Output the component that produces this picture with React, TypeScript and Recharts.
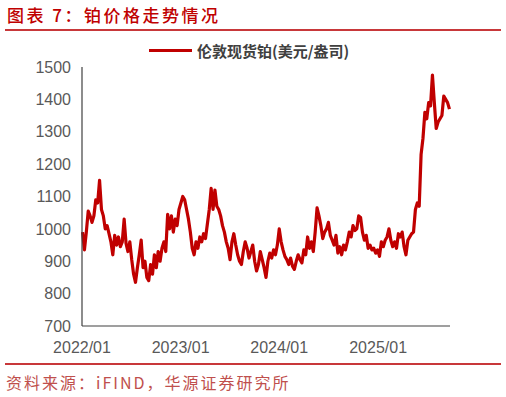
import React from 'react';
import { LineChart, Line, XAxis, YAxis } from 'recharts';

// Weekly London spot platinum (USD/oz)
const prices2022 = [
  990, 935, 990, 1055, 1040, 1020, 1040, 1090, 1080, 1150, 1060, 1040, 1000,
  1010, 985, 960, 920, 980, 950, 975, 945, 960, 1030, 955, 930, 960,
  905, 860, 835, 880, 920, 965, 880, 900, 850, 840, 890, 860, 920,
  880, 930, 900, 940, 960, 930, 1045, 1000, 1040, 990, 1030, 1010, 1060,
];
const prices2023 = [
  1080, 1100, 1090, 1060, 1030, 990, 940, 920, 960, 940, 975, 960, 985,
  970, 1015, 1060, 1125, 1060, 1120, 1070, 1060, 1040, 1010, 990, 960, 940,
  905, 960, 985, 950, 920, 900, 890, 930, 960, 940, 910, 930, 950,
  900, 870, 890, 930, 905, 880, 850, 900, 925, 910, 935, 920, 950,
];
const prices2024 = [
  1000, 960, 935, 915, 905, 890, 910, 885, 875, 900, 920, 905, 895,
  935, 920, 975, 940, 960, 930, 990, 1065, 1040, 1010, 970, 990, 1000,
  1020, 980, 965, 950, 980, 925, 945, 920, 950, 935, 960, 990, 975,
  1010, 995, 1000, 1040, 1035, 990, 965, 980, 940, 950, 935, 940, 925,
];
const prices2025 = [
  935, 915, 960, 945, 965, 975, 1000, 965, 945, 960, 940, 985, 975,
  990, 945, 920, 965, 975, 985, 990, 1060, 1080, 1070, 1230, 1280, 1360,
  1340, 1390, 1380, 1475, 1390, 1310, 1330, 1340, 1350, 1410, 1400, 1390, 1370,
];

const tickDays = [0, 365, 730, 1096];
const tickLabels = ['2022/01', '2023/01', '2024/01', '2025/01'];
const yTicks = [700, 800, 900, 1000, 1100, 1200, 1300, 1400, 1500];
const seriesName = '伦敦现货铂(美元/盎司)';
const titleText = '图表 7：铂价格走势情况';
const sourceText = '资料来源：iFIND，华源证券研究所';

const weekly = [...prices2022, ...prices2023, ...prices2024, ...prices2025];
const data = weekly.map((price, i) => ({ day: 2 + i * 7, price }));

const labelFor = (v: number) => {
  const k = tickDays.indexOf(v);
  return k >= 0 ? tickLabels[k] : '';
};

const Empty = () => <g />;

export default function App() {
  return (
    <div
      style={{
        position: 'absolute',
        left: 0,
        top: 0,
        width: 506,
        height: 397,
        background: '#fff',
        overflow: 'hidden',
      }}
    >
      <div
        style={{
          position: 'absolute',
          left: 7,
          top: 4,
          fontFamily: '"Noto Sans CJK SC", sans-serif',
          fontSize: 17,
          letterSpacing: 2.5,
          lineHeight: '22px',
          color: '#C00000',
          fontWeight: 500,
          whiteSpace: 'nowrap',
        }}
      >
        {titleText}
      </div>
      <div style={{ position: 'absolute', left: 5, top: 29, width: 496, height: 2, background: '#C8383A' }} />

      <LineChart
        width={506}
        height={397}
        data={data}
        margin={{ top: 67, right: 56, bottom: 41, left: 22 }}
        style={{ position: 'absolute', left: 0, top: 0 }}
      >
        <XAxis
          xAxisId="main"
          dataKey="day"
          type="number"
          domain={[0, 1362]}
          ticks={tickDays}
          interval={0}
          tickFormatter={labelFor}
          tickSize={0}
          tickMargin={16}
          height={30}
          axisLine={{ stroke: '#404040', strokeWidth: 1.2 }}
          tick={{ fill: '#595959', fontSize: 16, fontFamily: '"Liberation Sans", Arial, sans-serif' }}
        />
        <XAxis
          xAxisId="tk"
          dataKey="day"
          type="number"
          domain={[0, 1362]}
          ticks={tickDays}
          interval={0}
          mirror
          height={0}
          axisLine={false}
          tickSize={5}
          tickLine={{ stroke: '#404040', strokeWidth: 1.2 }}
          tick={<Empty />}
        />
        <YAxis
          yAxisId="main"
          type="number"
          domain={[700, 1500]}
          ticks={yTicks}
          interval={0}
          width={60}
          tickSize={0}
          tickMargin={11}
          axisLine={{ stroke: '#404040', strokeWidth: 1.2 }}
          tick={{ fill: '#595959', fontSize: 16, fontFamily: '"Liberation Sans", Arial, sans-serif' }}
        />
        <YAxis
          yAxisId="tk"
          type="number"
          domain={[700, 1500]}
          ticks={yTicks}
          interval={0}
          mirror
          width={0}
          axisLine={false}
          tickSize={6}
          tickLine={{ stroke: '#404040', strokeWidth: 1.2 }}
          tick={<Empty />}
        />
        <Line
          xAxisId="main"
          yAxisId="main"
          type="linear"
          dataKey="price"
          name={seriesName}
          stroke="#C00000"
          strokeWidth={3.2}
          strokeLinejoin="round"
          dot={false}
          activeDot={false}
          isAnimationActive={false}
        />
      </LineChart>

      <div style={{ position: 'absolute', left: 149, top: 49, width: 43, height: 3, background: '#C00000' }} />
      <div
        style={{
          position: 'absolute',
          left: 197,
          top: 40,
          fontFamily: '"Noto Sans CJK SC", sans-serif',
          fontSize: 15,
          fontWeight: 700,
          lineHeight: '22px',
          color: '#404040',
          whiteSpace: 'nowrap',
        }}
      >
        {seriesName}
      </div>

      <div style={{ position: 'absolute', left: 5, top: 363, width: 496, height: 2, background: '#C8383A' }} />
      <div
        style={{
          position: 'absolute',
          left: 6,
          top: 372,
          fontFamily: '"Noto Sans CJK SC", sans-serif',
          fontSize: 16,
          letterSpacing: 2,
          lineHeight: '21px',
          color: '#C0504D',
          fontWeight: 400,
          whiteSpace: 'nowrap',
        }}
      >
        {sourceText}
      </div>
    </div>
  );
}
